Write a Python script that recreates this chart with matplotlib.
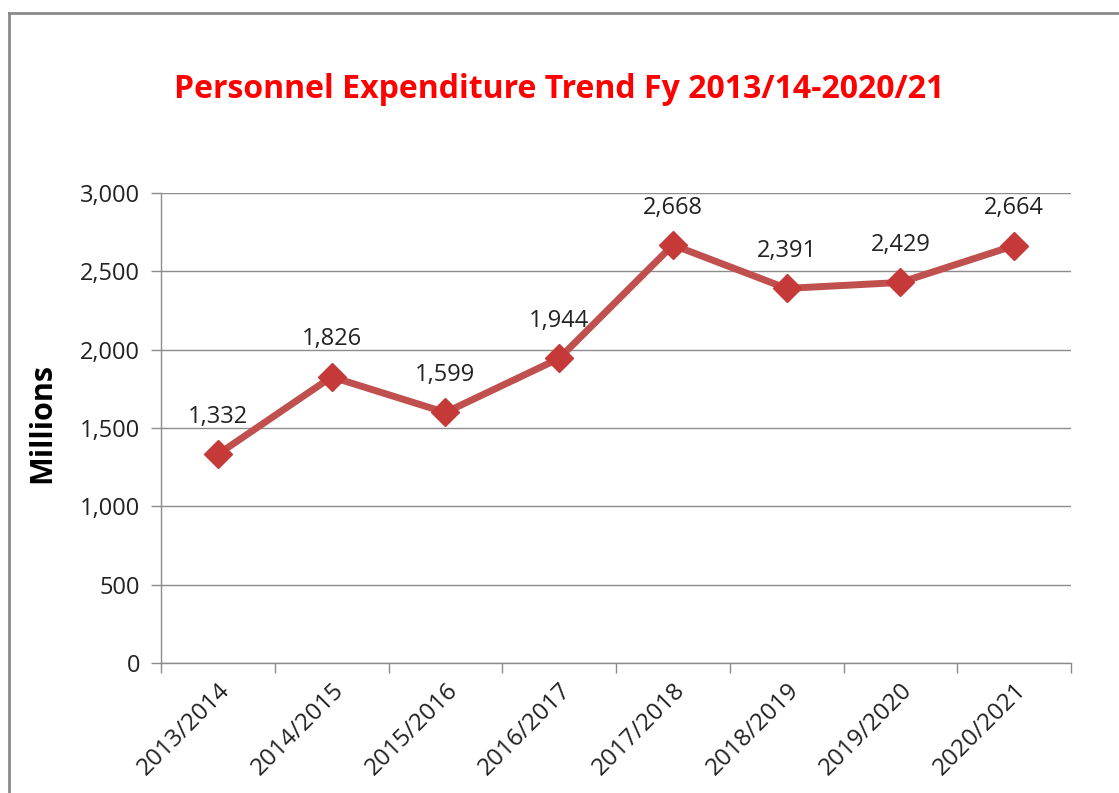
import matplotlib
matplotlib.use("Agg")
import matplotlib.pyplot as plt
from matplotlib.lines import Line2D
from matplotlib.ticker import FuncFormatter

years = ["2013/2014", "2014/2015", "2015/2016", "2016/2017",
         "2017/2018", "2018/2019", "2019/2020", "2020/2021"]
spend = [1332, 1826, 1599, 1944, 2668, 2391, 2429, 2664]
yticks = [0, 500, 1000, 1500, 2000, 2500, 3000]

plt.rcParams['font.family'] = ['Open Sans', 'DejaVu Sans']

fig = plt.figure(figsize=(11.19, 7.93), dpi=100)
ax = fig.add_axes([161/1119, 1 - 663/793, 910/1119, 470/793])

x = list(range(len(years)))
ax.plot(x, spend, color="#C0504D", lw=5, marker="D", markersize=14,
        markerfacecolor="#C53A38", markeredgecolor="#C53A38", zorder=3)
for xi, v in zip(x, spend):
    ax.annotate(f"{v:,}", (xi, v), xytext=(0, 27), textcoords="offset points",
                ha="center", va="center", fontsize=17, color="#222222")

ax.set_xlim(-0.5, len(years) - 0.5)
ax.set_ylim(0, 3000)
ax.set_yticks(yticks)
ax.yaxis.set_major_formatter(FuncFormatter(lambda v, p: f"{int(v):,}"))
ax.grid(axis="y", color="#8c8c8c", lw=1)
ax.set_axisbelow(True)

ax.set_xticks(x)
ax.set_xticklabels(years, rotation=45, ha="right", rotation_mode="anchor")
ax.set_xticks([i - 0.5 for i in range(len(years) + 1)], minor=True)
ax.tick_params(axis="x", which="major", length=0, pad=11, labelsize=17.5, labelcolor="#222222")
ax.tick_params(axis="x", which="minor", length=7, color="#8c8c8c", width=1)
ax.tick_params(axis="y", length=7, color="#8c8c8c", width=1, labelsize=17,
               labelcolor="#222222", pad=8)

for s in ["top", "right"]:
    ax.spines[s].set_visible(False)
for s in ["left", "bottom"]:
    ax.spines[s].set_color("#8c8c8c")
    ax.spines[s].set_linewidth(1)

fig.text(0.5, 1 - 90/793, "Personnel Expenditure Trend Fy 2013/14-2020/21",
         ha="center", va="center", fontsize=23, fontweight="bold", color="#FF0000")
fig.text(42/1119, 1 - 423/793, "Millions", rotation=90, ha="center", va="center",
         fontsize=22, fontweight="bold", color="black")

# outer chart border (runs off the right and bottom of the image)
fig.add_artist(Line2D([9/1119, 9/1119], [0, 1 - 13/793], color="#8a8a8a", lw=2))
fig.add_artist(Line2D([9/1119, 1], [1 - 13/793, 1 - 13/793], color="#8a8a8a", lw=2))

fig.savefig("out.png", dpi=100)
